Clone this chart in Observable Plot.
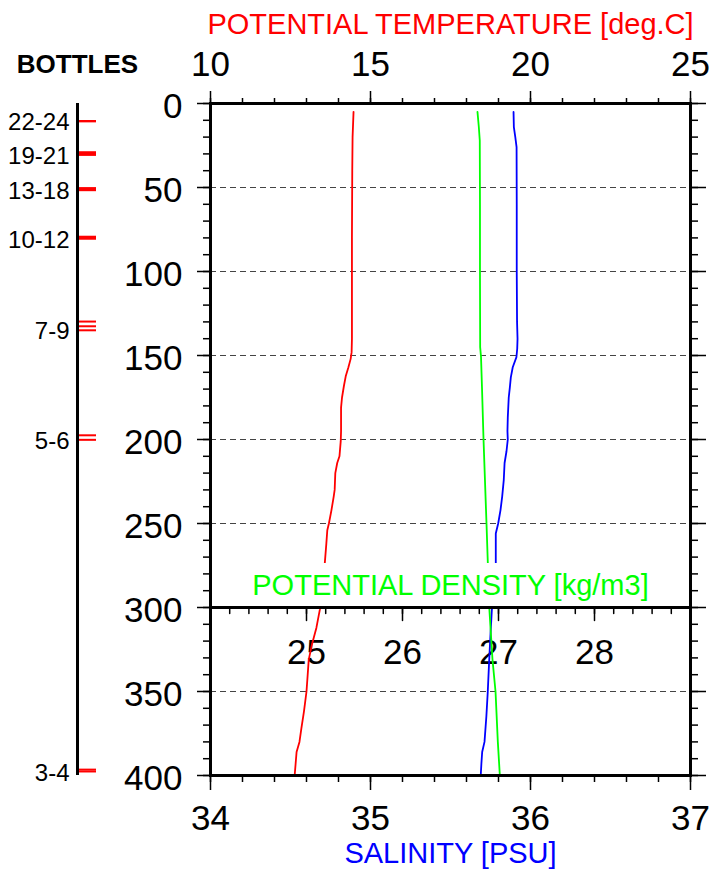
<!DOCTYPE html>
<html><head><meta charset="utf-8">
<script src="https://cdn.jsdelivr.net/npm/d3@7"></script>
<script src="https://cdn.jsdelivr.net/npm/@observablehq/plot@0.6"></script>
<style>
body{margin:0;background:#fff;}
#chart{position:relative;width:714px;height:869px;}
#chart svg{position:absolute;left:0;top:0;overflow:visible;background:transparent;}
</style>
</head><body><div id="chart"></div>
<script>
// ---------- data ----------
const tempDepths = [5, 20, 40, 80, 140, 148, 152, 157, 162, 168, 175, 181, 195, 201, 210, 214, 220, 230, 234, 242, 250, 254, 262, 274, 288, 301, 312, 322, 331, 342, 350, 362, 372, 380, 386, 393, 400];
const tempValues = [14.47, 14.44, 14.43, 14.42, 14.42, 14.41, 14.38, 14.31, 14.23, 14.17, 14.11, 14.08, 14.08, 14.07, 14.03, 13.96, 13.90, 13.88, 13.85, 13.78, 13.70, 13.65, 13.62, 13.57, 13.50, 13.42, 13.31, 13.17, 13.07, 13.03, 13.00, 12.92, 12.84, 12.78, 12.69, 12.66, 12.63];

const salDepths = [5, 14, 20, 26, 60, 100, 130, 140, 146, 151, 157, 163, 169, 175, 187, 195, 200, 207, 214, 224, 234, 242, 250, 256, 266, 274, 288, 302, 316, 331, 350, 365, 380, 386, 393, 400];
const salValues = [35.894, 35.896, 35.905, 35.913, 35.914, 35.914, 35.916, 35.919, 35.917, 35.912, 35.889, 35.877, 35.871, 35.864, 35.858, 35.856, 35.858, 35.850, 35.838, 35.833, 35.823, 35.8125, 35.798, 35.783, 35.783, 35.783, 35.770, 35.758, 35.750, 35.742, 35.733, 35.724, 35.7125, 35.698, 35.693, 35.689];

const densDepths = [5, 14, 22, 60, 100, 145, 151, 169, 200, 234, 250, 274, 302, 331, 350, 380, 400];
const densValues = [26.781, 26.795, 26.805, 26.807, 26.807, 26.809, 26.818, 26.828, 26.844, 26.865, 26.875, 26.889, 26.906, 26.9375, 26.969, 26.993, 27.014];

const bottleNumbers = [3, 4, 5, 6, 7, 8, 9, 10, 11, 12, 13, 14, 15, 16, 17, 18, 19, 20, 21, 22, 23, 24];
const bottleDepths  = [396.5, 397.6, 197.5, 200.2, 129.8, 132.6, 135.0, 79.3, 79.9, 80.5, 50.4, 50.6, 50.9, 51.1, 51.4, 51.6, 29.0, 29.8, 30.6, 10.5, 10.5, 10.5];
const bottleGroups = ["3-4", "5-6", "7-9", "10-12", "13-18", "19-21", "22-24"];

const tempMajor = [10, 15, 20, 25];
const salMajor = [34, 35, 36, 37];
const densLabels = [25, 26, 27, 28];
const depthMajor = [0, 50, 100, 150, 200, 250, 300, 350, 400];
const gridDepths = [50, 100, 150, 200, 250, 350];
const densityAxisDepth = 300;

const titleTemp = "POTENTIAL TEMPERATURE [deg.C]";
const titleSal = "SALINITY [PSU]";
const titleDens = "POTENTIAL DENSITY [kg/m3]";
const titleBottles = "BOTTLES";

// ---------- layout ----------
const FONT = "'Liberation Sans', Arial, Helvetica, sans-serif";
const W = 714, H = 869;
const M = {top: 103, right: 24, bottom: 94, left: 210};
const salDomain = [34, 37], tempDomain = [10, 25], densDomain = [24, 29], depthDomain = [0, 400];
const lin = (a, b) => v => b[0] + (v - a[0]) * (b[1] - b[0]) / (a[1] - a[0]);
const tToX = lin(tempDomain, salDomain), xToT = lin(salDomain, tempDomain), dToX = lin(densDomain, salDomain);
const pxPerM = (H - M.top - M.bottom) / (depthDomain[1] - depthDomain[0]);

const tempMinor = d3.range(0, 16).map(i => 10 + i);
const salMinor = d3.range(0, 16).map(i => 34 + i * 0.2);
const densMinor = d3.range(0, 26).map(i => 24 + i * 0.2);
const depthMinor = d3.range(0, 41).map(i => i * 10);

const profile = (depths, values, f) => depths.map((d, i) => ({depth: d, x: f(values[i])}));
const tickShape = {draw(ctx, l) { ctx.moveTo(0, 0); ctx.lineTo(0, -l); }};
const blank = () => "";

const main = Plot.plot({
  width: W, height: H,
  marginTop: M.top, marginRight: M.right, marginBottom: M.bottom, marginLeft: M.left,
  style: {fontFamily: FONT, background: "transparent", overflow: "visible"},
  x: {domain: salDomain},
  y: {domain: depthDomain, reverse: true},
  marks: [
    Plot.ruleY(gridDepths, {stroke: "#444", strokeWidth: 1.1, strokeDasharray: "6,4"}),
    Plot.text(densLabels, {x: d => dToX(d), y: densityAxisDepth, dy: 45, text: d => String(d), fontSize: 35, fill: "black", lineAnchor: "middle"}),
    Plot.line(profile(tempDepths, tempValues, tToX), {x: "x", y: "depth", stroke: "#ff0000", strokeWidth: 1.8}),
    Plot.line(profile(salDepths, salValues, v => v), {x: "x", y: "depth", stroke: "#0000ff", strokeWidth: 1.8}),
    Plot.line(profile(densDepths, densValues, dToX), {x: "x", y: "depth", stroke: "#00ff00", strokeWidth: 1.8}),
    Plot.rect([0], {x1: salDomain[0], x2: salDomain[1], y1: densityAxisDepth, y2: densityAxisDepth - 44 / pxPerM, fill: "white"}),
    Plot.text([titleDens], {y: densityAxisDepth, dy: -21.5, text: d => d, fill: "#00ff00", fontSize: 29, lineAnchor: "middle"}),
    Plot.frame({stroke: "black", strokeWidth: 3}),
    Plot.ruleY([densityAxisDepth], {stroke: "black", strokeWidth: 3}),
    Plot.vector(densMinor, {x: d => dToX(d), y: densityAxisDepth, length: 6, rotate: 180, anchor: "start", shape: tickShape, stroke: "black", strokeWidth: 1.5}),
    Plot.vector(densLabels, {x: d => dToX(d), y: densityAxisDepth, length: 13, rotate: 180, anchor: "start", shape: tickShape, stroke: "black", strokeWidth: 1.5}),
    // top (temperature) axis
    Plot.axisX({anchor: "top", ticks: tempMinor.map(tToX), tickSize: 6, tickFormat: blank, label: null, strokeWidth: 1.5}),
    Plot.axisX({anchor: "top", ticks: tempMajor.map(tToX), tickSize: 13, tickPadding: 15, tickFormat: d => String(Math.round(xToT(d))), fontSize: 35, label: null, strokeWidth: 1.5}),
    // bottom (salinity) axis
    Plot.axisX({anchor: "bottom", ticks: salMinor, tickSize: 7, tickFormat: blank, label: null, strokeWidth: 1.5}),
    Plot.axisX({anchor: "bottom", ticks: salMajor, tickSize: 15, tickPadding: 15, tickFormat: d => String(d), fontSize: 35, label: null, strokeWidth: 1.5}),
    // depth axes
    Plot.axisY({anchor: "left", ticks: depthMinor, tickSize: 7, tickFormat: blank, label: null, strokeWidth: 1.5}),
    Plot.axisY({anchor: "left", ticks: depthMajor, tickSize: 13, tickFormat: blank, label: null, strokeWidth: 1.5}),
    Plot.axisY({anchor: "left", ticks: depthMajor, tickSize: 0, tickPadding: 28, dy: 3, tickFormat: d => String(d), fontSize: 35, label: null}),
    Plot.axisY({anchor: "right", ticks: depthMinor, tickSize: 7, tickFormat: blank, label: null, strokeWidth: 1.5}),
    Plot.axisY({anchor: "right", ticks: depthMajor, tickSize: 15, tickFormat: blank, label: null, strokeWidth: 1.5}),
    // titles
    Plot.text([titleTemp], {frameAnchor: "top", lineAnchor: "middle", dy: -79, text: d => d, fill: "#ff0000", fontSize: 29}),
    Plot.text([titleSal], {frameAnchor: "bottom", lineAnchor: "middle", dy: 78.5, text: d => d, fill: "#0000ff", fontSize: 29})
  ]
});

const groupDepth = g => {
  const [a, b] = g.split("-").map(Number);
  return d3.max(bottleNumbers.map((n, i) => (n >= a && n <= b) ? bottleDepths[i] : NaN).filter(v => !isNaN(v)));
};

const bottles = Plot.plot({
  width: 150, height: H,
  marginTop: M.top, marginBottom: M.bottom, marginLeft: 77, marginRight: 54,
  style: {fontFamily: FONT, background: "transparent", overflow: "visible"},
  x: {domain: [0, 1], axis: null},
  y: {domain: depthDomain, reverse: true, axis: null},
  marks: [
    Plot.ruleY(bottleDepths, {x1: 0, x2: 1, stroke: "#ff0000", strokeWidth: 2}),
    Plot.ruleX([0], {stroke: "black", strokeWidth: 3}),
    Plot.text(bottleGroups, {x: 0, y: groupDepth, text: d => d, dx: -8, dy: 1.5, textAnchor: "end", lineAnchor: "middle", fontSize: 24, fill: "black"}),
    Plot.text([titleBottles], {x: 0, frameAnchor: "top", lineAnchor: "middle", dy: -39, text: d => d, fontWeight: "bold", fontSize: 26, fill: "black"})
  ]
});

const chart = document.getElementById("chart");
chart.appendChild(main);
chart.appendChild(bottles);
</script>
</body></html>
